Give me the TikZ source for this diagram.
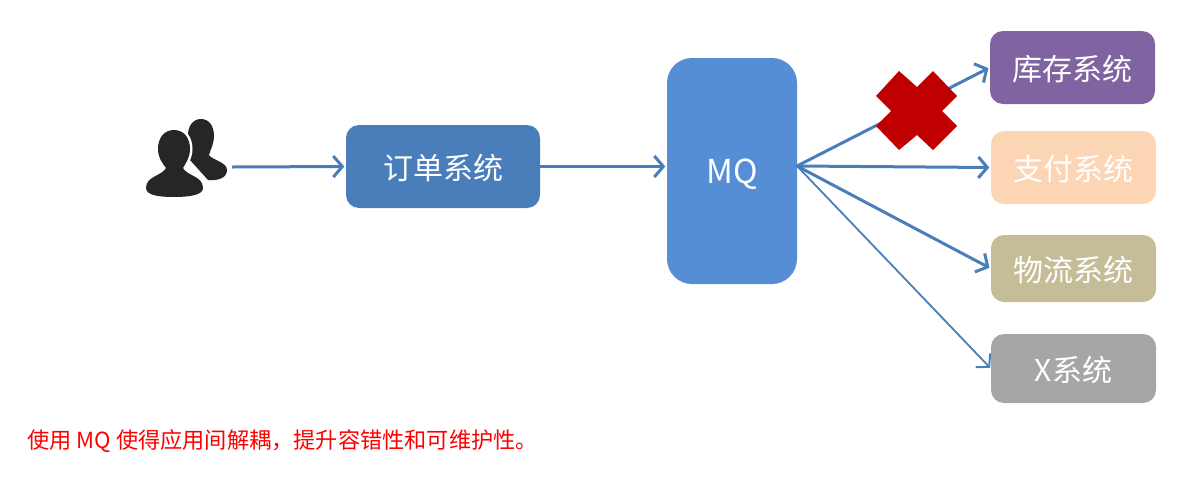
\documentclass[tikz,border=0pt]{standalone}
\usepackage{fontspec}
\usepackage{xcolor}
\usetikzlibrary{arrows.meta}
\setmainfont{Noto Sans CJK SC}
\definecolor{orderblue}{HTML}{4A7EBB}
\definecolor{mqblue}{HTML}{558ED5}
\definecolor{stockpurple}{HTML}{8064A2}
\definecolor{paypeach}{HTML}{FCD5B5}
\definecolor{shipkhaki}{HTML}{C4BD97}
\definecolor{xgrey}{HTML}{A6A6A6}
\definecolor{crossred}{HTML}{C00000}
\definecolor{userblack}{HTML}{262626}
\tikzset{
    sysbox/.style={rounded corners=13pt, inner sep=0pt, text=white, text height=28pt, text depth=1.2pt, font=\fontsize{30}{33}\selectfont},
    flow/.style={draw=orderblue, line width=3pt, shorten >=1.5pt, -{Straight Barb[length=9pt,width=21pt,line width=3pt]}},
    thinflow/.style={draw=orderblue, line width=1.8pt, shorten >=1pt, -{Straight Barb[length=9pt,width=20pt,line width=2pt]}},
    note/.style={inner sep=0pt, anchor=west, text=red, font=\fontsize{22.2}{25}\selectfont},
}

\begin{document}
\begin{tikzpicture}[x=1pt,y=-1pt]
    \useasboundingbox (0,0) rectangle (1192,496);
    % boxes
    \node [sysbox, fill=orderblue, minimum width=194pt, minimum height=83pt] (order) at (443,166.5) {订单系统};
    \node [sysbox, fill=mqblue, rounded corners=25pt, minimum width=130pt, minimum height=226pt, text height=26pt, text depth=1pt, font=\fontsize{33}{36}\selectfont] (mq) at (732,171) {MQ};
    \node [sysbox, fill=stockpurple, minimum width=165pt, minimum height=73pt] (stock) at (1072.5,67.5) {库存系统};
    \node [sysbox, fill=paypeach, minimum width=165pt, minimum height=73pt] (pay) at (1073.5,167.5) {支付系统};
    \node [sysbox, fill=shipkhaki, minimum width=165pt, minimum height=67pt] (ship) at (1073.5,268.5) {物流系统};
    \node [sysbox, fill=xgrey, minimum width=165pt, minimum height=69pt] (xsys) at (1073.5,368.5) {X系统};
    \node [note] (summary) at (27,441.5) {使用 MQ 使得应用间解耦，提升容错性和可维护性。};
    % free ends
    \coordinate (users) at (232,167);
    \coordinate (mqout) at (797,166);
    % connectors
    \draw [flow] (users) -- (order.west);
    \draw [flow] (order.east) -- (mq.west |- order.east);
    \draw [flow] (mqout) -- (stock.west);
    \draw [flow] (mqout) -- (pay.west);
    \draw [flow] (mqout) -- (ship.west);
    \draw [thinflow] (mqout) -- (xsys.west);
    % red cross
    \fill [crossred] (899,71) -- (917,87) -- (933,71) -- (957,96) -- (942,111) -- (957,126)
        -- (933,150) -- (917,135) -- (899,150) -- (876,126) -- (891,111) -- (876,96) -- cycle;
    % back user
    \fill [userblack] (201,119) .. controls (209,119) and (214,126) .. (214,136)
        .. controls (214,144) and (210,151) .. (209,155)
        .. controls (212,160) and (227,162) .. (227,170)
        .. controls (227,177) and (220,181) .. (208,180)
        -- (190,160) -- (188,135) .. controls (188,126) and (193,119) .. (201,119) -- cycle;
    % front user
    \fill [userblack, preaction={draw=white, line width=5pt}] (174,130) .. controls (184,130) and (190,138) .. (190,149)
        .. controls (190,158) and (185,164) .. (183,168)
        .. controls (187,176) and (203,176) .. (203,188)
        .. controls (203,195) and (190,197) .. (174,197)
        .. controls (158,197) and (146,195) .. (146,188)
        .. controls (146,176) and (162,176) .. (166,168)
        .. controls (163,164) and (158,158) .. (158,149)
        .. controls (158,138) and (164,130) .. (174,130) -- cycle;
\end{tikzpicture}
\end{document}
